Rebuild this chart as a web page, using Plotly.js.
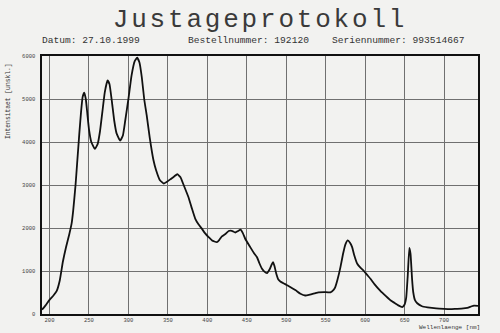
<!DOCTYPE html>
<html>
<head>
<meta charset="utf-8">
<script src="https://cdn.plot.ly/plotly-3.0.1.min.js"></script>
<style>html,body{margin:0;padding:0;background:#f2f2f0;}#chart{width:500px;height:333px;}</style>
</head>
<body>
<div id="chart"></div>
<script>
const chartTitle = "Justageprotokoll";
const headerTexts = ["Datum: 27.10.1999", "Bestellnummer: 192120", "Seriennummer: 993514667"];
const xAxisTitle = "Wellenlaenge [nm]";
const yAxisTitle = "Intensitaet [unskl.]";
const xTicks = [200, 250, 300, 350, 400, 450, 500, 550, 600, 650, 700];
const yTicks = [0, 1000, 2000, 3000, 4000, 5000, 6000];

const wavelength = [190.5,195,200,205,209,213,217,221,225,228,230,233,235,237.8,240,242,244,246,248,250,253,257.5,261,264,267,270,273.5,276,279,282,285,289.5,293,296,300,304,308,311,314,317,320,323.4,327,331.7,335,340,345,349,353,358,362,366,370,376,380,384.6,389,393,397,401.5,406,412,415,418.5,423,427,431,435.4,439,442,445,448,454.4,459,463,466,469.3,472,475.6,479,481.5,483.2,485,487.4,490,492.5,498,505,512,518,524,530,536,541,548,556,560,562,565,568.7,572,575,578,581,583.5,586,590,594,598,602,606.7,612,619,626,632,637,642,647,650,652,654,656,657.5,659.5,661,663,666,672,679,690,700,708,715,722,729.5,735,738,743];
const intensity = [100,200,330,430,530,780,1220,1560,1850,2100,2400,3000,3500,4200,4700,5050,5150,5000,4650,4300,4000,3840,3950,4250,4700,5150,5430,5350,4950,4500,4200,4030,4150,4500,5000,5550,5880,5960,5850,5500,5000,4590,4100,3580,3350,3110,3035,3075,3130,3200,3250,3180,3000,2720,2480,2220,2080,1985,1880,1790,1710,1670,1720,1805,1860,1930,1935,1895,1930,1960,1880,1750,1555,1420,1320,1180,1050,990,950,1040,1150,1205,1120,935,800,755,700,630,550,470,430,450,480,505,510,505,560,620,800,1090,1400,1620,1710,1650,1555,1380,1170,1080,1010,920,820,690,545,420,320,260,200,160,220,380,900,1540,1400,800,500,330,250,180,155,130,120,115,120,125,140,180,195,190];

const mono = "Liberation Mono, DejaVu Sans Mono, monospace";
const L = 42, R = 478, T = 56, B = 314;
const px = x => (x - L) / (R - L);
const py = y => (B - y) / (B - T);

const trace = {
  x: wavelength, y: intensity, type: 'scatter', mode: 'lines',
  line: {color: '#111', width: 1.8, shape: 'spline', smoothing: 0.4},
  hoverinfo: 'skip'
};

const axisCommon = {
  showgrid: true, gridcolor: '#707070', gridwidth: 1,
  showline: true, linecolor: '#111', linewidth: 1.6, mirror: true,
  zeroline: false, ticks: '', tickfont: {family: mono, size: 5.5, color: '#444'}
};

const hdrFont = {family: mono, size: 9.6, color: '#333'};

const layout = {
  width: 500, height: 333,
  margin: {l: L, r: 500 - R, t: T, b: 333 - B, pad: 0},
  paper_bgcolor: '#f2f2f0', plot_bgcolor: '#f2f2f0',
  showlegend: false,
  title: {text: chartTitle, font: {family: mono, size: 26, color: '#3a3a3a'},
          x: 0.5, xref: 'paper', xanchor: 'center', y: 1 - 18/333, yref: 'container', yanchor: 'middle'},
  xaxis: Object.assign({}, axisCommon, {range: [190.5, 743], tickvals: xTicks, ticktext: xTicks.map(String), ticklabelstandoff: 0}),
  yaxis: Object.assign({}, axisCommon, {range: [0, 6000], tickvals: yTicks, ticktext: yTicks.map(String), ticklabelstandoff: 4}),
  annotations: [
    {text: headerTexts[0], x: px(40), y: py(41), xref: 'paper', yref: 'paper', xanchor: 'left', yanchor: 'middle', showarrow: false, font: hdrFont},
    {text: headerTexts[1], x: px(186), y: py(41), xref: 'paper', yref: 'paper', xanchor: 'left', yanchor: 'middle', showarrow: false, font: hdrFont},
    {text: headerTexts[2], x: px(330), y: py(41), xref: 'paper', yref: 'paper', xanchor: 'left', yanchor: 'middle', showarrow: false, font: hdrFont},
    {text: xAxisTitle, x: px(449), y: py(327.5), xref: 'paper', yref: 'paper', xanchor: 'center', yanchor: 'middle', showarrow: false, font: {family: mono, size: 6, color: '#333'}},
    {text: yAxisTitle, x: px(8), y: py(101), xref: 'paper', yref: 'paper', xanchor: 'center', yanchor: 'middle', textangle: -90, showarrow: false, font: {family: mono, size: 6.3, color: '#333'}}
  ]
};

Plotly.newPlot('chart', [trace], layout, {staticPlot: true, displayModeBar: false}).then(() => {
  document.querySelectorAll('.gtitle').forEach(t => { t.style.letterSpacing = '2.8px'; });
});
</script>
</body>
</html>
